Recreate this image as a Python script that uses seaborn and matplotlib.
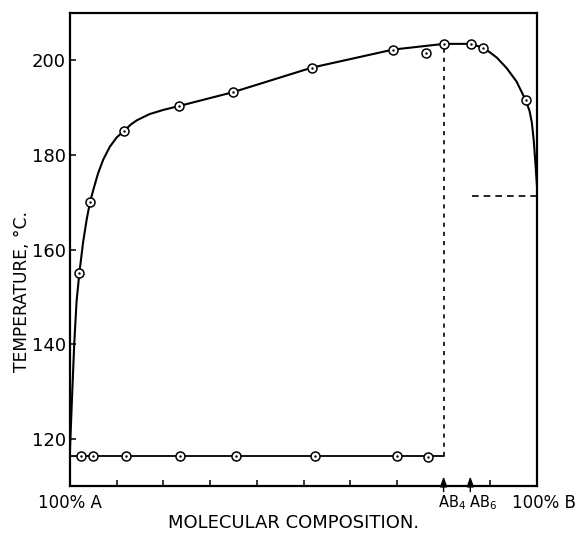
import numpy as np
import pandas as pd
import matplotlib
matplotlib.use("Agg")
import matplotlib.pyplot as plt
import seaborn as sns

sns.set_theme(style="white")
plt.rcParams["font.family"] = ["DejaVu Sans"]
plt.rcParams["text.color"] = "black"
plt.rcParams["xtick.color"] = "black"
plt.rcParams["ytick.color"] = "black"

# Liquidus: measured points (mol % B, temperature in deg C)
liq_x = [2.0, 4.3, 11.6, 23.3, 34.8, 51.8, 69.2, 80.1, 85.8, 88.4, 97.6]
liq_t = [155.0, 170.0, 185.0, 190.2, 193.1, 198.3, 202.1, 203.3, 203.3, 202.5, 191.4]

# Off-curve measurement
odd_x = [76.2]
odd_t = [201.3]

# Smooth liquidus curve traced through the measurements
curve_x = [0.0, 0.4, 0.9, 1.4, 2.0, 2.8, 3.6, 4.3, 5.0, 6.0, 7.1, 8.5, 10.0, 11.6,
           13.0, 14.3, 17.0, 20.0, 23.3, 34.8, 51.8, 69.2, 80.1, 85.8, 88.4, 89.8,
           91.4, 93.5, 95.6, 97.6, 98.4, 98.9, 99.3, 99.6, 100.0]
curve_t = [118.0, 128.0, 140.0, 149.0, 155.0, 161.5, 166.5, 170.0, 172.6, 176.0,
           178.9, 181.6, 183.6, 185.0, 186.3, 187.2, 188.5, 189.4, 190.2, 193.1,
           198.3, 202.1, 203.3, 203.3, 202.5, 201.6, 200.4, 198.2, 195.4, 191.4,
           189.2, 186.7, 183.0, 179.0, 173.3]

# Eutectic (solidus) line
sol_x = [2.4, 4.9, 12.0, 23.6, 35.5, 52.5, 70.0, 76.7]
sol_t = [116.6, 116.6, 116.6, 116.6, 116.6, 116.6, 116.6, 116.3]
sol_line_x = [0.0, 80.0]
sol_line_t = [116.6, 116.6]

# Compound composition markers and dashed guides
ab4_x = 80.0
ab6_x = 600.0 / 7.0
ab4_top = 203.3
ab6_dash_t = 171.2
ab6_dash_x = [86.0, 100.0]

ytick_vals = [120, 140, 160, 180, 200]
xtick_vals = [10, 20, 30, 40, 50, 60, 70, 90]

fig = plt.figure(figsize=(5.77, 5.37), dpi=100)
ax = fig.add_axes([70 / 577, 1 - 486 / 537, 467 / 577, 473 / 537])

curve_df = pd.DataFrame({"x": curve_x, "t": curve_t})
sns.lineplot(data=curve_df, x="x", y="t", sort=False, estimator=None,
             color="black", lw=1.5, ax=ax)
sns.lineplot(x=sol_line_x, y=sol_line_t, sort=False, estimator=None,
             color="black", lw=1.3, ax=ax)

# dashed guides
ax.plot([ab4_x, ab4_x], [sol_line_t[1], ab4_top], color="black", lw=1.2,
        ls=(0, (2.5, 3)))
ax.plot(ab6_dash_x, [ab6_dash_t, ab6_dash_t], color="black", lw=1.2,
        ls=(0, (4, 3)))

pts = pd.DataFrame({"x": liq_x + odd_x + sol_x, "t": liq_t + odd_t + sol_t})
sns.scatterplot(data=pts, x="x", y="t", marker="o", s=42, facecolor="white",
                edgecolor="black", linewidth=1.1, ax=ax, zorder=5)
sns.scatterplot(data=pts, x="x", y="t", marker="o", s=3, color="black",
                linewidth=0, ax=ax, zorder=6)

ax.set_xlim(0, 100)
ax.set_ylim(110.2, 209.8)
ax.set_yticks(ytick_vals)
ax.set_yticklabels([str(v) for v in ytick_vals], fontsize=13)
ax.set_xticks(xtick_vals)
ax.set_xticklabels([])
ax.tick_params(axis="both", direction="in", length=4, width=1.1, colors="black",
               left=True, bottom=True, pad=3)
for s in ax.spines.values():
    s.set_color("black")
    s.set_linewidth(1.6)
ax.set_xlabel("")
ax.set_ylabel("")

# composition arrows on the x axis
for xv in (ab4_x, ab6_x):
    ax.annotate("", xy=(xv, 112.2), xytext=(xv, 109.0),
                xycoords="data", textcoords="data",
                arrowprops=dict(arrowstyle="-|>,head_length=0.5,head_width=0.18",
                                color="black", lw=1.0, shrinkA=0, shrinkB=0),
                annotation_clip=False)

lab_y = 106.6
ax.text(0, lab_y, "100% A", ha="center", va="center", fontsize=12)
ax.text(ab4_x - 1.1, lab_y, "AB$_4$", ha="left", va="center", fontsize=10.5)
ax.text(ab6_x - 0.2, lab_y, "AB$_6$", ha="left", va="center", fontsize=10.5)
ax.text(101.4, lab_y, "100% B", ha="center", va="center", fontsize=12)

fig.text(294 / 577, 1 - 523 / 537, "MOLECULAR COMPOSITION.", ha="center",
         va="center", fontsize=13)
fig.text(22 / 577, 1 - 291 / 537, "TEMPERATURE, \u00b0C.", ha="center",
         va="center", rotation=90, fontsize=12.3)

fig.savefig("out.png", dpi=100)
